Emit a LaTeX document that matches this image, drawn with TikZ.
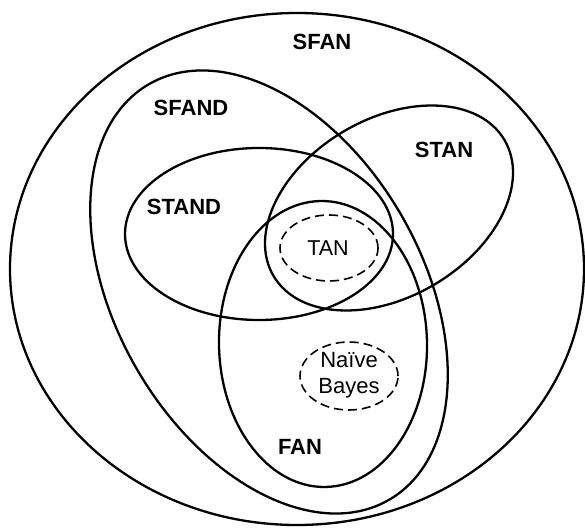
\documentclass[tikz,border=0pt]{standalone}
\usepackage{fontspec}
\setmainfont{Liberation Sans}
\begin{document}
\begin{tikzpicture}[x=1pt,y=1pt,
  setline/.style={line width=2.3pt},
  subline/.style={line width=1.6pt, dash pattern=on 9pt off 5pt},
  boldlabel/.style={font=\fontsize{22}{26}\selectfont\bfseries, inner sep=0pt},
  plainlabel/.style={font=\fontsize{22}{26}\selectfont, inner sep=0pt, align=center}]
\useasboundingbox (0,0) rectangle (585,527);
% SFAN
\draw[setline] (297,258) ellipse [x radius=287, y radius=256];
% SFAND
\draw[setline, rotate around={-60:(269,235)}] (269,235) ellipse [x radius=240, y radius=153];
% STAND
\draw[setline] (259,293) ellipse [x radius=134, y radius=86];
% STAN
\draw[setline, rotate around={30.5:(389,319)}] (389,319) ellipse [x radius=134, y radius=89];
% FAN
\draw[setline, rotate around={1:(323,183)}] (323,183) ellipse [x radius=104, y radius=143];
% TAN dashed
\draw[subline] (329,279) ellipse [x radius=49, y radius=33];
% Naive Bayes dashed
\draw[subline] (349,151) ellipse [x radius=49, y radius=34];
% labels
\node[boldlabel] (sfan) at (322,485) {SFAN};
\node[boldlabel] (sfand) at (191,419) {SFAND};
\node[boldlabel] (stand) at (184,320) {STAND};
\node[boldlabel] (stan) at (444,377) {STAN};
\node[boldlabel] (fan) at (300,80) {FAN};
\node[plainlabel, font=\fontsize{21.5}{26}\selectfont] (tan) at (328,279) {TAN};
\node[plainlabel] (nb) at (349,152) {Naïve\\Bayes};
\end{tikzpicture}
\end{document}
